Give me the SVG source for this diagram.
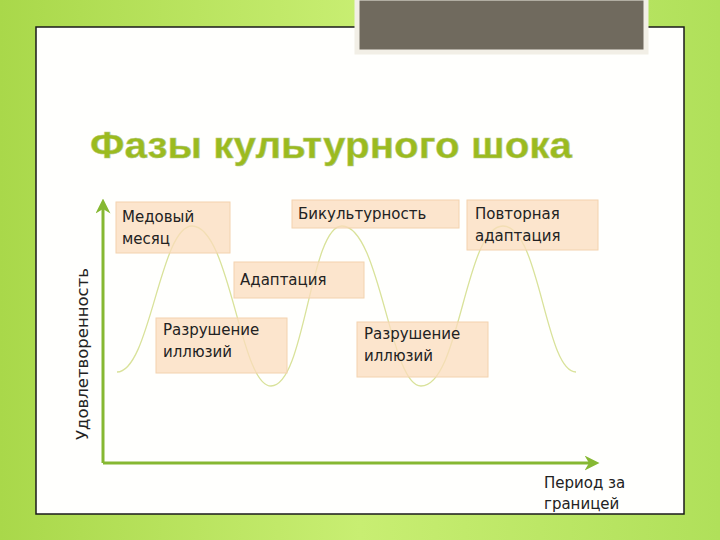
<svg xmlns="http://www.w3.org/2000/svg" width="720" height="540" viewBox="0 0 720 540">
<defs>
<linearGradient id="bg" x1="0" y1="0" x2="1" y2="0">
<stop offset="0" stop-color="#a9d84a"/><stop offset="0.5" stop-color="#c8ee72"/><stop offset="1" stop-color="#b0e05a"/>
</linearGradient>
<marker id="ah" viewBox="0 0 10 10" refX="5" refY="5" markerWidth="5" markerHeight="5" orient="auto"><path d="M0,0 L10,5 L0,10 L3,5 Z" fill="#86b832"/></marker>
<style>
.box{fill:#fbdcbc;fill-opacity:0.75;stroke:#f3d2ae;stroke-width:1}
.t{font-family:"DejaVu Sans","Liberation Sans",sans-serif;font-size:15px;fill:#222}
.ax{stroke:#86b832;stroke-width:3;fill:none;marker-end:url(#ah)}
</style>
</defs>
<rect width="720" height="540" fill="url(#bg)"/>
<rect x="36" y="27" width="648" height="487" fill="#fffffd" stroke="#1a1a1a" stroke-width="1.5"/>
<rect x="357" y="-2" width="289" height="54" fill="#706a5e" stroke="#f2efe6" stroke-width="5"/>
<text x="90" y="158" font-family="'Liberation Sans',sans-serif" font-weight="bold" font-size="36" fill="#9bbb1f" stroke="#b7c98a" stroke-width="0.5" textLength="482" lengthAdjust="spacingAndGlyphs">Фазы культурного шока</text>
<g id="connectors">
<path d="M117,372 C150,372 160,226 192,226 C230,226 240,386 271,386 C305,386 310,226 342,226 C380,226 390,386 421,386 C460,386 465,226 503,226 C540,226 545,372 576,372" fill="none" stroke="#d9e29a" stroke-width="1.3"/>
<path class="ax" d="M103,463 V206"/>
<path class="ax" d="M103,463 H592"/>
</g>
<g id="n1"><rect class="box" x="116" y="202" width="114" height="51"/><text class="t" x="122" y="222">Медовый</text><text class="t" x="122" y="244">месяц</text></g>
<g id="n2"><rect class="box" x="292" y="200" width="167" height="28"/><text class="t" x="298" y="219">Бикультурность</text></g>
<g id="n3"><rect class="box" x="467" y="200" width="131" height="50"/><text class="t" x="475" y="219">Повторная</text><text class="t" x="475" y="241">адаптация</text></g>
<g id="n4"><rect class="box" x="234" y="262" width="130" height="36"/><text class="t" x="240" y="285">Адаптация</text></g>
<g id="n5"><rect class="box" x="156" y="318" width="131" height="55"/><text class="t" x="163" y="335">Разрушение</text><text class="t" x="163" y="357">иллюзий</text></g>
<g id="n6"><rect class="box" x="357" y="322" width="131" height="55"/><text class="t" x="364" y="339">Разрушение</text><text class="t" x="364" y="361">иллюзий</text></g>
<text class="t" transform="translate(88,440) rotate(-90)" textLength="172" lengthAdjust="spacingAndGlyphs">Удовлетворенность</text>
<text class="t" x="544" y="488">Период за</text>
<text class="t" x="544" y="509">границей</text>
</svg>
